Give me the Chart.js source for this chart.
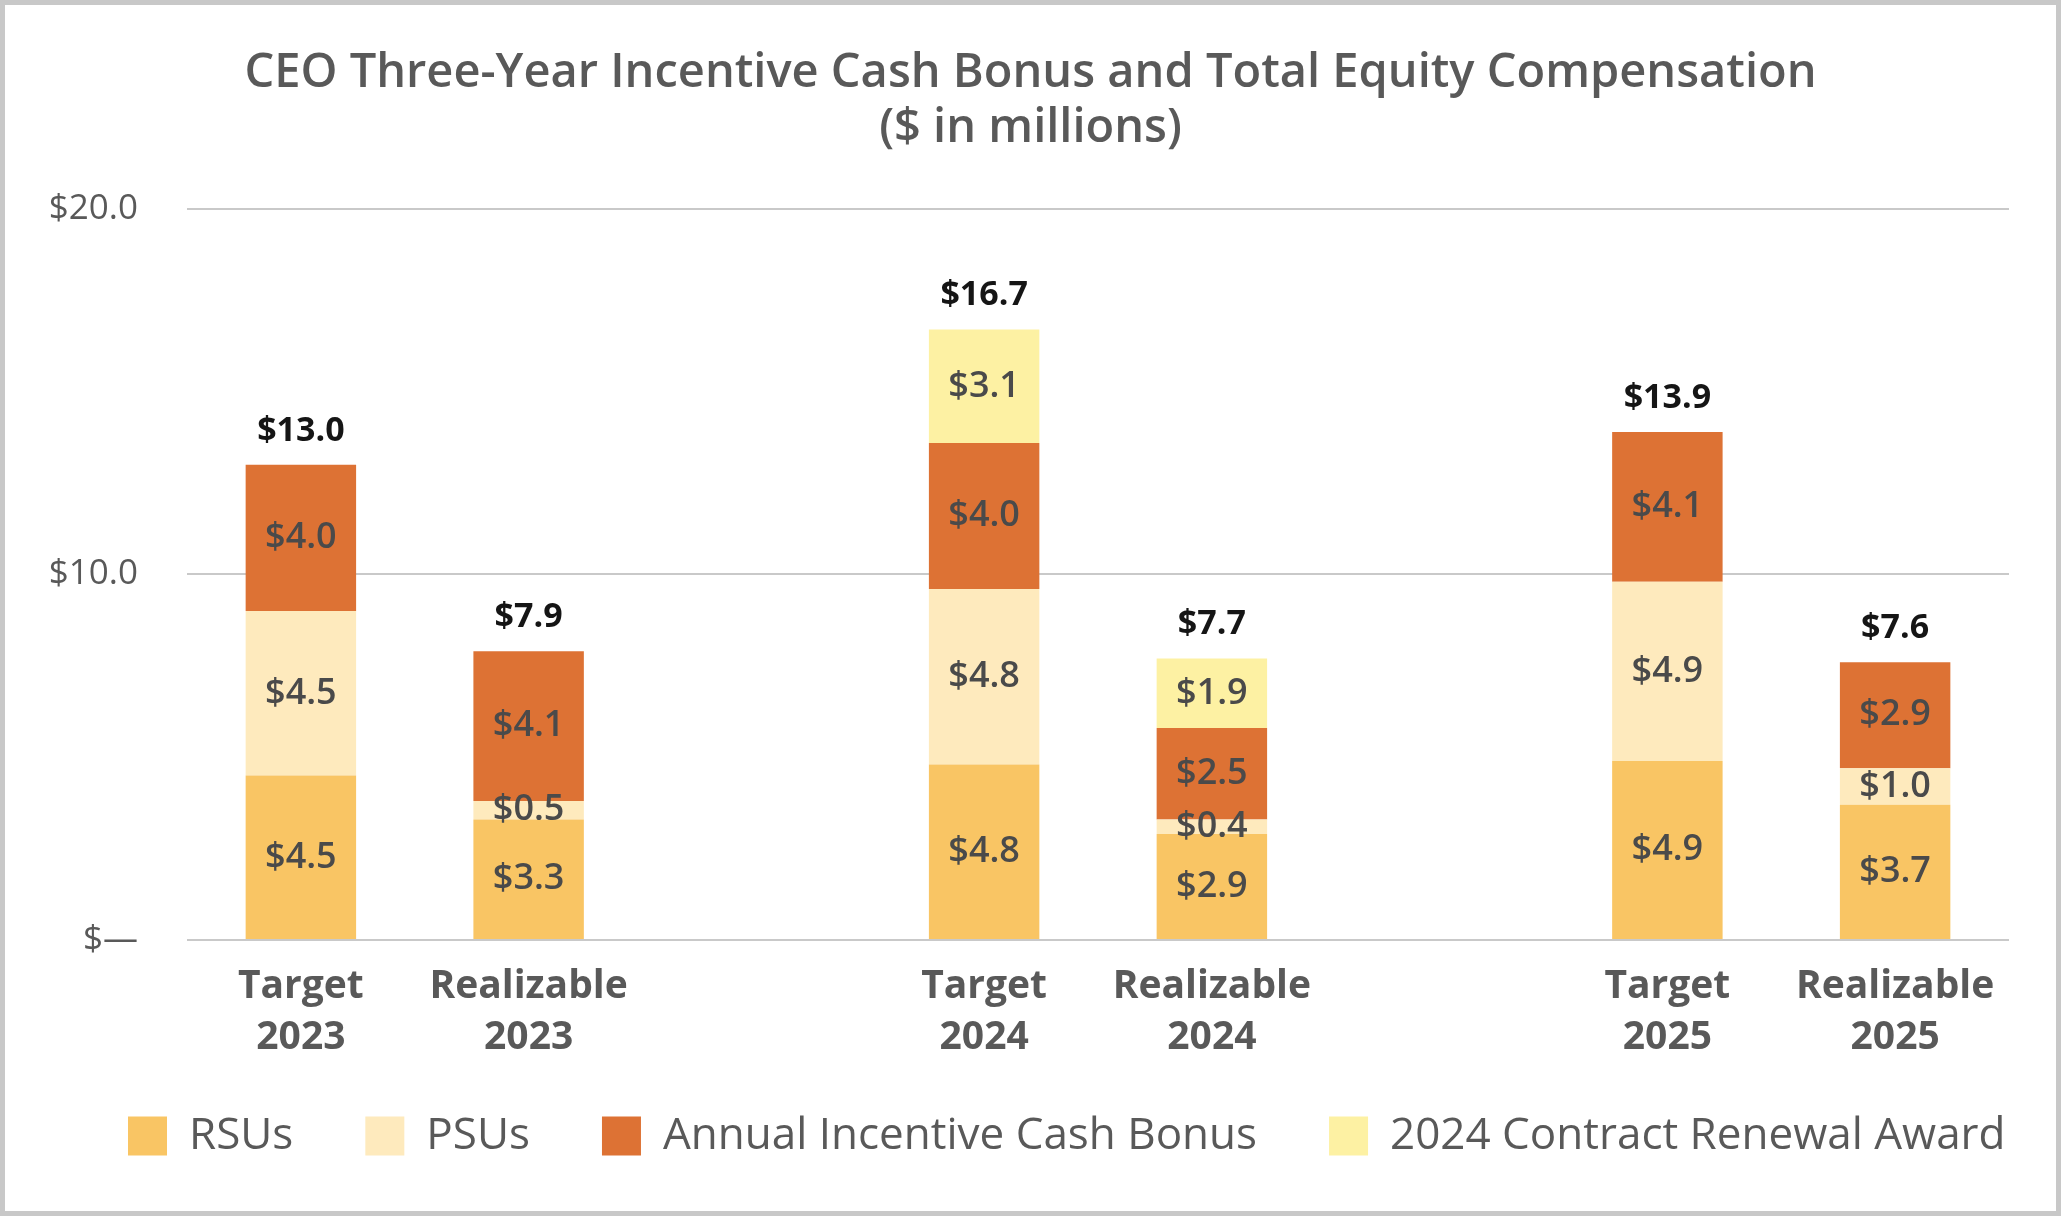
<!DOCTYPE html>
<html>
<head>
<meta charset="utf-8">
<script src="https://cdn.jsdelivr.net/npm/chart.js@4.4.0/dist/chart.umd.min.js"></script>
<style>
  html, body { margin: 0; padding: 0; background: #fff; }
  #wrap { width: 2061px; height: 1216px; box-sizing: border-box; border: 5px solid #c8c8c8; }
  canvas { display: block; }
</style>
</head>
<body>
<div id="wrap"><canvas id="chart" width="2051" height="1206"></canvas></div>
<script>
// empty slots at 2 and 5 are the gaps between the years
const categories = [['Target', '2023'], ['Realizable', '2023'], '', ['Target', '2024'], ['Realizable', '2024'], '', ['Target', '2025'], ['Realizable', '2025']];
const rsus = [4.5, 3.3, null, 4.8, 2.9, null, 4.9, 3.7];
const psus = [4.5, 0.5, null, 4.8, 0.4, null, 4.9, 1.0];
const cashBonus = [4.0, 4.1, null, 4.0, 2.5, null, 4.1, 2.9];
const renewalAward = [0, 0, null, 3.1, 1.9, null, 0, 0];
const totals = [13.0, 7.9, null, 16.7, 7.7, null, 13.9, 7.6];
const yTicks = [0, 10, 20];

const FONT = '"Open Sans", sans-serif';
const ctx = document.getElementById('chart').getContext('2d');

const barLabels = {
	id: 'barLabels',
	afterDatasetsDraw(chart) {
		const c = chart.ctx;
		c.save();
		c.textAlign = 'center';
		c.textBaseline = 'middle';
		c.font = '600 36px ' + FONT;
		c.fillStyle = '#4a4a4a';
		chart.data.datasets.forEach((ds, i) => {
			chart.getDatasetMeta(i).data.forEach((bar, j) => {
				const v = ds.data[j];
				if (!v) return;
				const { x, y, base } = bar.getProps(['x', 'y', 'base'], true);
				c.fillText('$' + v.toFixed(1), x, (y + base) / 2);
			});
		});
		// totals above each stack
		const xs = chart.scales.x, ys = chart.scales.y;
		c.font = 'bold 34px ' + FONT;
		c.fillStyle = '#151515';
		totals.forEach((t, j) => {
			if (t == null) return;
			c.fillText('$' + t.toFixed(1), xs.getPixelForValue(j), ys.getPixelForValue(t) - 34);
		});
		c.restore();
	}
};

// legend sits right of centre and tucked up under the axis labels in the original
const legendShift = {
	id: 'legendShift',
	afterLayout(chart) {
		const lg = chart.legend;
		lg.left += 51;
		lg.right += 51;
		lg.top -= 28;
		lg.bottom -= 28;
	}
};

const makeSet = (label, data, color) => ({
	label,
	data,
	backgroundColor: color,
	borderWidth: 0,
	barPercentage: 0.485,
	categoryPercentage: 1
});

new Chart(ctx, {
	type: 'bar',
	data: {
		labels: categories,
		datasets: [
			makeSet('RSUs', rsus, '#f9c564'),
			makeSet('PSUs', psus, '#feeabd'),
			makeSet('Annual Incentive Cash Bonus', cashBonus, '#dd7234'),
			makeSet('2024 Contract Renewal Award', renewalAward, '#fdf1a3'),
		]
	},
	options: {
		responsive: false,
		animation: false,
		layout: { padding: { top: 41, left: 0, right: 0, bottom: 15 } },
		plugins: {
			title: {
				display: true,
				text: ['CEO Three-Year Incentive Cash Bonus and Total Equity Compensation', '($ in millions)'],
				color: '#595959',
				font: { family: FONT, size: 47, weight: '600', lineHeight: 1.17 },
				padding: { top: 0, bottom: 53 }
			},
			legend: {
				position: 'bottom',
				align: 'start',
				labels: {
					boxWidth: 39,
					boxHeight: 39,
					padding: 72,
					color: '#595959',
					font: { family: FONT, size: 44 }
				}
			},
			tooltip: { enabled: false }
		},
		scales: {
			x: {
				stacked: true,
				grid: { display: false, drawTicks: false },
				border: { display: false },
				ticks: {
					color: '#595959',
					padding: 22,
					font: { family: FONT, size: 39, weight: 'bold', lineHeight: 1.29 }
				},
				afterFit: s => { s.height = 130; }
			},
			y: {
				stacked: true,
				min: 0,
				max: 20,
				afterBuildTicks: s => { s.ticks = yTicks.map(v => ({ value: v })); },
				grid: { color: '#c9c9c9', lineWidth: 2, drawTicks: false },
				border: { display: false },
				ticks: {
					color: '#595959',
					padding: 49,
					font: { family: FONT, size: 35 },
					callback: v => v === 0 ? '$\u2014' : '$' + v.toFixed(1)
				},
				afterFit: s => { s.width = 182; }
			},
			// empty right-hand margin
			yPad: {
				type: 'linear',
				position: 'right',
				grid: { display: false, drawTicks: false },
				border: { display: false },
				ticks: { display: false },
				afterFit: s => { s.width = 47; }
			}
		}
	},
	plugins: [barLabels, legendShift]
});
</script>
</body>
</html>
